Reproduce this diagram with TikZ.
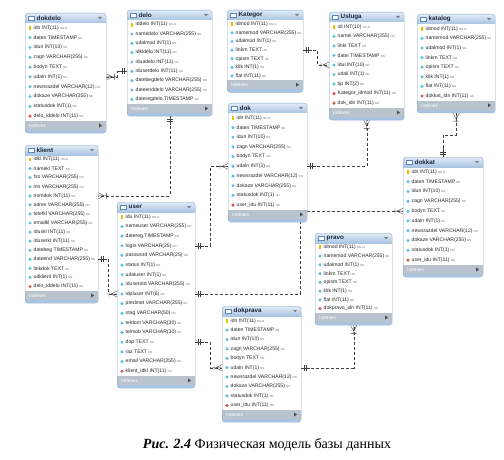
\documentclass[tikz,border=0pt]{standalone}
\usepackage{fontspec}
\setmainfont{Liberation Sans}
\newfontfamily\capfont{Liberation Serif}
\usetikzlibrary{shapes.geometric,calc,backgrounds}

\definecolor{tblborder}{HTML}{8AA9CB}
\definecolor{hdrtop}{HTML}{E2ECF7}
\definecolor{hdrbot}{HTML}{A9C4E2}
\definecolor{hdrblue}{HTML}{5B86B8}
\definecolor{idxband}{HTML}{B9C3CE}
\definecolor{bandblue}{HTML}{A9C4E2}
\definecolor{colc}{HTML}{5CC3DA}
\definecolor{fkc}{HTML}{D9534F}
\definecolor{keyc}{HTML}{EDC000}
\definecolor{flagc}{HTML}{707070}
\definecolor{titlec}{HTML}{1B2436}
\definecolor{relc}{HTML}{404040}

\tikzset{
  rowtext/.style={anchor=west, inner sep=0pt, font=\fontsize{5.1}{6}\selectfont, text=black!85},
  colnn/.style={diamond, fill=colc, inner sep=0pt, minimum size=3.6pt},
  colfk/.style={diamond, fill=fkc, inner sep=0pt, minimum size=3.6pt},
  colkey/.style={rectangle, fill=keyc, inner sep=0pt, minimum width=1.6pt, minimum height=3.8pt},
  rel/.style={draw=relc, line width=0.4pt, dash pattern=on 3pt off 2pt},
  relone/.pic={\draw[relc, line width=0.4pt] (-9,0) -- (0,0) (-3,-3) -- (-3,3) (-5,-3) -- (-5,3);},
  relmany/.pic={\draw[relc, line width=0.4pt] (-10,0) -- (0,0) (-8,-3) -- (-8,3) (0,-3) -- (-6,0) -- (0,3);},
}

% #1 name, #2 left, #3 top, #4 width, #5 row height, #6 title, #7 rows
\newcommand{\dbtable}[7]{%
  \begin{scope}[shift={(#2,#3)}]
    \foreach \r [count=\n] in {#7} {\xdef\nrows{\n}}
    \pgfmathsetmacro{\tblh}{22+\nrows*#5}
    \begin{scope}
      \clip[rounded corners=3pt] (0,0) rectangle (#4,\tblh);
      \fill[white] (0,0) rectangle (#4,\tblh);
      \shade[top color=hdrtop, bottom color=hdrbot] (0,0) rectangle (#4,10);
      \fill[idxband] (0,\tblh-12) rectangle (#4,\tblh-3);
      \fill[bandblue] (0,\tblh-3) rectangle (#4,\tblh);
    \end{scope}
    \node[draw=tblborder, rounded corners=3pt, inner sep=0pt, anchor=north west,
      minimum width=#4pt, minimum height=\tblh pt] (#1) at (0,0) {};
    % header
    \draw[hdrblue, fill=white, line width=0.3pt] (3.5,2.8) rectangle (9.5,7.6);
    \fill[hdrblue] (3.5,2.8) rectangle (9.5,4.2);
    \node[anchor=west, inner sep=0pt, font=\bfseries\fontsize{6.3}{7}\selectfont, text=titlec] at (11.5,5.2) {#6};
    \fill[gray] (#4-8,4) -- (#4-4,4) -- (#4-6,6.4) -- cycle;
    % rows
    \foreach \ic/\txt/\fl [count=\i] in {#7} {
      \pgfmathsetmacro{\yy}{10+(\i-0.5)*#5}
      \node[\ic] at (5,\yy) {};
      \node[rowtext] (#1-\i) at (8.5,\yy) {\txt\hspace{1.2pt}{\fontsize{2.8}{3}\selectfont\color{flagc}\fl}};
    }
    % footer
    \node[anchor=west, inner sep=0pt, font=\fontsize{4.8}{5}\selectfont, text=white] at (4,\tblh-7.5) {Indexes};
    \fill[gray!60!black] (#4-7,\tblh-9.5) -- (#4-7,\tblh-5.5) -- (#4-4,\tblh-7.5) -- cycle;
  \end{scope}}

\begin{document}
\begin{tikzpicture}[x=1pt,y=-1pt]
\useasboundingbox (0,0) rectangle (504,460);

% ===== tables =====
\dbtable{dokdelo}{25}{13}{81}{9.8}{dokdelo}{
  colkey/idn INT(11)/NN AI, colnn/daten TIMESTAMP/NN, colnn/idun INT(10)/NN,
  colnn/zagn VARCHAR(255)/NN, colnn/bodyn TEXT/NN, colnn/udaln INT(1)/NN,
  colnn/newsrazdel VARCHAR(12)/NN, colnn/dokaze VARCHAR(255)/NN,
  colnn/statusdok INT(1)/NN, colfk/delo\_iddelo INT(11)/NN}

\dbtable{delo}{127}{10}{85}{9.33}{delo}{
  colkey/iddelo INT(11)/NN AI, colnn/namedelo VARCHAR(255)/NN, colnn/udalmod INT(1)/NN,
  colnn/idkldelo INT(11)/NN, colnn/iduadelo INT(11)/NN, colnn/iduserdelo INT(11)/NN,
  colnn/datebegdelo VARCHAR(255)/NN, colnn/dateenddelo VARCHAR(255)/NN,
  colnn/dateregdelo TIMESTAMP/NN}

\dbtable{Kategor}{227}{10}{76}{8.6}{Kategor}{
  colkey/idmod INT(11)/NN AI, colnn/namemod VARCHAR(255)/NN, colnn/udalmod INT(1)/NN,
  colnn/linkm TEXT/NN, colnn/opism TEXT/NN, colnn/klik INT(1)/NN, colnn/flat INT(11)/NN}

\dbtable{Usluga}{329}{12}{75}{9.55}{Usluga}{
  colkey/idi INT(10)/NN AI, colnn/namei VARCHAR(255)/NN, colnn/linki TEXT/NN,
  colnn/datei TIMESTAMP/NN, colnn/idui INT(10)/NN, colnn/udali INT(1)/NN,
  colnn/tip INT(2)/NN, colfk/Kategor\_idmod INT(11)/NN, colfk/dok\_idn INT(11)/NN}

\dbtable{katalog}{417}{14}{78}{9.6}{katalog}{
  colkey/idmod INT(11)/NN AI, colnn/namemod VARCHAR(255)/NN, colnn/udalmod INT(1)/NN,
  colnn/linkm TEXT/NN, colnn/opism TEXT/NN, colnn/klik INT(1)/NN, colnn/flat INT(11)/NN,
  colfk/dokkat\_idn INT(11)/NN}

\dbtable{dok}{228}{103}{79}{9.7}{dok}{
  colkey/idn INT(11)/NN AI, colnn/daten TIMESTAMP/NN, colnn/idun INT(10)/NN,
  colnn/zagn VARCHAR(255)/NN, colnn/bodyn TEXT/NN, colnn/udaln INT(1)/NN,
  colnn/newsrazdel VARCHAR(12)/NN, colnn/dokaze VARCHAR(255)/NN,
  colnn/statusdok INT(1)/NN, colfk/user\_idu INT(11)/NN}

\dbtable{klient}{25}{145}{73}{9.07}{klient}{
  colkey/idkl INT(11)/NN AI, colnn/namekl TEXT/NN, colnn/fzo VARCHAR(255)/NN,
  colnn/inn VARCHAR(255)/NN, colnn/nomdok INT(11)/NN, colnn/adres VARCHAR(255)/NN,
  colnn/telefkl VARCHAR(255)/NN, colnn/emailkl VARCHAR(255)/NN, colnn/iduskl INT(11)/NN,
  colnn/iduserkl INT(11)/NN, colnn/datebeg TIMESTAMP/NN, colnn/dateend VARCHAR(255)/NN,
  colnn/linkdok TEXT/NN, colnn/udklient INT(1)/NN, colfk/delo\_iddelo INT(11)/NN}

\dbtable{user}{117}{202}{78}{9.65}{user}{
  colkey/idu INT(11)/NN AI, colnn/nameuser VARCHAR(255)/NN, colnn/datereg TIMESTAMP/NN,
  colnn/login VARCHAR(25)/NN, colnn/password VARCHAR(25)/NN, colnn/status INT(1)/NN,
  colnn/udaluser INT(1)/NN, colnn/iduserotd VARCHAR(255)/NN, colnn/idpluser INT(6)/NN,
  colnn/predmet VARCHAR(255)/NN, colnn/stag VARCHAR(50)/NN, colnn/teldom VARCHAR(30)/NN,
  colnn/telmob VARCHAR(30)/NN, colnn/dop TEXT/NN, colnn/raz TEXT/NN,
  colnn/email VARCHAR(255)/NN, colfk/klient\_idkl INT(11)/NN}

\dbtable{dokkat}{403}{157}{80}{9.8}{dokkat}{
  colkey/idn INT(11)/NN AI, colnn/daten TIMESTAMP/NN, colnn/idun INT(10)/NN,
  colnn/zagn VARCHAR(255)/NN, colnn/bodyn TEXT/NN, colnn/udaln INT(1)/NN,
  colnn/newsrazdel VARCHAR(12)/NN, colnn/dokaze VARCHAR(255)/NN,
  colnn/statusdok INT(1)/NN, colfk/user\_idu INT(11)/NN}

\dbtable{pravo}{315}{233}{77}{8.75}{pravo}{
  colkey/idmod INT(11)/NN AI, colnn/namemod VARCHAR(255)/NN, colnn/udalmod INT(1)/NN,
  colnn/linkm TEXT/NN, colnn/opism TEXT/NN, colnn/klik INT(1)/NN, colnn/flat INT(11)/NN,
  colfk/dokpravo\_idn INT(11)/NN}

\dbtable{dokprava}{222}{306}{79}{9.4}{dokprava}{
  colkey/idn INT(11)/NN AI, colnn/daten TIMESTAMP/NN, colnn/idun INT(10)/NN,
  colnn/zagn VARCHAR(255)/NN, colnn/bodyn TEXT/NN, colnn/udaln INT(1)/NN,
  colnn/newsrazdel VARCHAR(12)/NN, colnn/dokaze VARCHAR(255)/NN,
  colnn/statusdok INT(1)/NN, colfk/user\_idu INT(11)/NN}

% ===== relations =====
\begin{scope}[on background layer]
\draw[rel] (dokdelo.east |- dokdelo-6) -- ++(11,0) |- (delo.west |- delo-6);
\draw[rel] (delo.south) |- (klient.east |- klient-5);
\draw[rel] (user.east |- user-4) -- ++(15,0) |- (dok.west |- dok-6);
\draw[rel] (user.east |- user-14) -- ++(15,0) |- (dokprava.west |- dokprava-6);
\draw[rel] (klient.east |- klient-12) -- ++(10,0) |- (user.west |- user-9);
\draw[rel] (user.east |- user-9) -| ($(dok.south east)+(-7,0)$) |- (dokkat.west |- dokkat-5);
\draw[rel] (Kategor.east |- Kategor-4) -- ++(14,0) |- (Usluga.west |- Usluga-5);
\draw[rel] (dok.east |- dok-6) -| (Usluga.south);
\draw[rel] (katalog.south) |- ($(dokkat.north)!0.5!(katalog.south)$) -| (dokkat.north);
\draw[rel] (dokprava.east |- dokprava-6) -| (pravo.south);
\end{scope}

% ===== markers =====
\pic[rotate=180] at (dokdelo.east |- dokdelo-6) {relmany};
\pic at (delo.west |- delo-6) {relone};
\pic[rotate=90] at (delo.south) {relone};
\pic[rotate=180] at (klient.east |- klient-5) {relmany};
\pic[rotate=180] at (user.east |- user-4) {relone};
\pic at (dok.west |- dok-6) {relmany};
\pic[rotate=180] at (user.east |- user-14) {relone};
\pic at (dokprava.west |- dokprava-6) {relmany};
\pic[rotate=180] at (klient.east |- klient-12) {relone};
\pic at (user.west |- user-9) {relmany};
\pic[rotate=180] at (user.east |- user-9) {relone};
\pic at (dokkat.west |- dokkat-5) {relmany};
\pic[rotate=180] at (Kategor.east |- Kategor-4) {relone};
\pic at (Usluga.west |- Usluga-5) {relmany};
\pic[rotate=180] at (dok.east |- dok-6) {relone};
\pic[rotate=90] at (Usluga.south) {relmany};
\pic[rotate=90] at (katalog.south) {relmany};
\pic[rotate=-90] at (dokkat.north) {relone};
\pic[rotate=180] at (dokprava.east |- dokprava-6) {relone};
\pic[rotate=90] at (pravo.south) {relmany};

% ===== caption =====
\node[font=\capfont\fontsize{14}{16}\selectfont] (caption) at (267,445)
  {\textbf{\textit{Рис. 2.4}} Физическая модель базы данных};

\end{tikzpicture}
\end{document}
